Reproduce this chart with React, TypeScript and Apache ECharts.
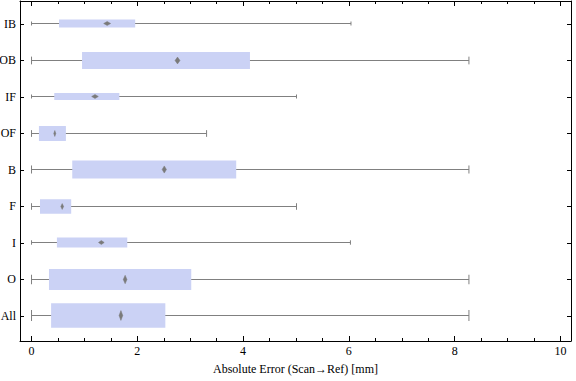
import React, { useEffect, useRef } from "react";
import * as echarts from "echarts";

// Categories, top to bottom
const categories = ["IB", "OB", "IF", "OF", "B", "F", "I", "O", "All"];
// Whisker ends (mm)
const whiskerLow = [0, 0, 0, 0, 0, 0, 0, 0, 0];
const whiskerHigh = [6.04, 8.27, 5.01, 3.31, 8.27, 5.01, 6.03, 8.27, 8.27];
// Box quartiles (mm)
const q1 = [0.52, 0.955, 0.43, 0.14, 0.77, 0.16, 0.48, 0.33, 0.37];
const q3 = [1.96, 4.13, 1.66, 0.65, 3.87, 0.75, 1.81, 3.02, 2.53];
// Mean and its half-width (mm)
const meanValue = [1.43, 2.76, 1.2, 0.44, 2.51, 0.58, 1.32, 1.77, 1.69];
const meanHalfWidth = [0.066, 0.047, 0.063, 0.019, 0.041, 0.026, 0.054, 0.035, 0.035];
// Relative box thickness (fraction of a category step)
const boxThickness = [0.22, 0.47, 0.19, 0.41, 0.49, 0.4, 0.27, 0.58, 0.67];

// Tick values
const xMajorTicks = [0, 2, 4, 6, 8, 10];
const xMinorTicks = [0.5, 1, 1.5, 2.5, 3, 3.5, 4.5, 5, 5.5, 6.5, 7, 7.5, 8.5, 9, 9.5];

const X_MIN = -0.218;
const X_MAX = 10.2;
const Y_MIN = -0.685;
const Y_MAX = 8.63;

const FONT = "'Liberation Serif', 'Times New Roman', serif";
const FRAME = "#000";
const GRAY = "#808080";
const BOX = "#cbd2f5";

export default function App() {
  const ref = useRef<HTMLDivElement>(null);

  useEffect(() => {
    if (!ref.current) return;
    const chart = echarts.init(ref.current, undefined, { renderer: "svg" });
    const n = categories.length;
    const yTicks = categories.map((_, i) => i);
    const data = categories.map((_, i) => [
      n - 1 - i,
      whiskerLow[i],
      q1[i],
      q3[i],
      whiskerHigh[i],
      meanValue[i],
      meanHalfWidth[i],
      boxThickness[i],
    ]);

    const majorX = (position: string, labels: boolean) => ({
      type: "value",
      position,
      min: X_MIN,
      max: X_MAX,
      axisLine: { show: true, onZero: false, lineStyle: { color: FRAME, width: 1 } },
      axisTick: {
        show: true,
        inside: true,
        length: 5,
        customValues: xMajorTicks,
        lineStyle: { color: FRAME, width: 1 },
      },
      axisLabel: labels
        ? {
            show: true,
            customValues: xMajorTicks,
            fontFamily: FONT,
            fontSize: 12,
            color: "#000",
            margin: 4,
          }
        : { show: false },
      splitLine: { show: false },
      ...(labels
        ? {
            name: "Absolute Error (Scan\u2192Ref) [mm]",
            nameLocation: "middle",
            nameGap: 22,
            nameTextStyle: { fontFamily: FONT, fontSize: 12, color: "#000", verticalAlign: "top" },
          }
        : {}),
    });
    const minorX = (position: string) => ({
      type: "value",
      position,
      min: X_MIN,
      max: X_MAX,
      axisLine: { show: false, onZero: false },
      axisTick: {
        show: true,
        inside: true,
        length: 3,
        customValues: xMinorTicks,
        lineStyle: { color: FRAME, width: 1 },
      },
      axisLabel: { show: false },
      splitLine: { show: false },
    });
    const yAx = (position: string, labels: boolean) => ({
      type: "value",
      position,
      min: Y_MIN,
      max: Y_MAX,
      axisLine: { show: true, onZero: false, lineStyle: { color: FRAME, width: 1 } },
      axisTick: {
        show: true,
        inside: true,
        length: 4,
        customValues: yTicks,
        lineStyle: { color: FRAME, width: 1 },
      },
      axisLabel: labels
        ? {
            show: true,
            customValues: yTicks,
            formatter: (v: number) => categories[n - 1 - Math.round(v)] ?? "",
            fontFamily: FONT,
            fontSize: 12,
            color: "#000",
            margin: 4,
          }
        : { show: false },
      splitLine: { show: false },
    });

    chart.setOption({
      animation: false,
      grid: {
        left: 20,
        right: 5,
        top: 1,
        bottom: 40,
        containLabel: false,
        outerBoundsMode: "none",
      },
      xAxis: [majorX("bottom", true), minorX("bottom"), majorX("top", false), minorX("top")],
      yAxis: [yAx("left", true), yAx("right", false)],
      series: [
        {
          type: "custom",
          xAxisIndex: 0,
          yAxisIndex: 0,
          data,
          renderItem: (params: any, api: any) => {
            const y = api.value(0);
            const lo = api.coord([api.value(1), y]);
            const b1 = api.coord([api.value(2), y]);
            const b3 = api.coord([api.value(3), y]);
            const hi = api.coord([api.value(4), y]);
            const m = api.value(5);
            const mh = api.value(6);
            const mL = api.coord([m - mh, y]);
            const mC = api.coord([m, y]);
            const mR = api.coord([m + mh, y]);
            const bh = Math.abs(api.size([0, api.value(7)])[1]);
            const cap = Math.max(4, bh * 0.45);
            const dh = Math.max(4, bh * 0.4) / 2;
            const cy = Math.round(lo[1] - 0.5) + 0.5;
            const lineStyle = { stroke: GRAY, lineWidth: 1, fill: null };
            return {
              type: "group",
              children: [
                {
                  type: "line",
                  shape: { x1: lo[0], y1: cy, x2: hi[0], y2: cy },
                  style: lineStyle,
                },
                {
                  type: "line",
                  shape: { x1: lo[0], y1: cy - cap / 2, x2: lo[0], y2: cy + cap / 2 },
                  style: lineStyle,
                },
                {
                  type: "line",
                  shape: { x1: hi[0], y1: cy - cap / 2, x2: hi[0], y2: cy + cap / 2 },
                  style: lineStyle,
                },
                {
                  type: "rect",
                  shape: { x: b1[0], y: cy - bh / 2, width: b3[0] - b1[0], height: bh },
                  style: { fill: BOX, stroke: null },
                },
                {
                  type: "polygon",
                  shape: {
                    points: [
                      [mL[0], cy],
                      [mC[0], cy - dh],
                      [mR[0], cy],
                      [mC[0], cy + dh],
                    ],
                  },
                  style: { fill: "#7a7a7a", stroke: "#7a7a7a", lineWidth: 0.5 },
                },
              ],
            };
          },
        },
      ],
    });
    return () => chart.dispose();
  }, []);

  return (
    <div
      ref={ref}
      style={{ position: "fixed", left: 0, top: 0, width: 576, height: 381, background: "#fff" }}
    />
  );
}
